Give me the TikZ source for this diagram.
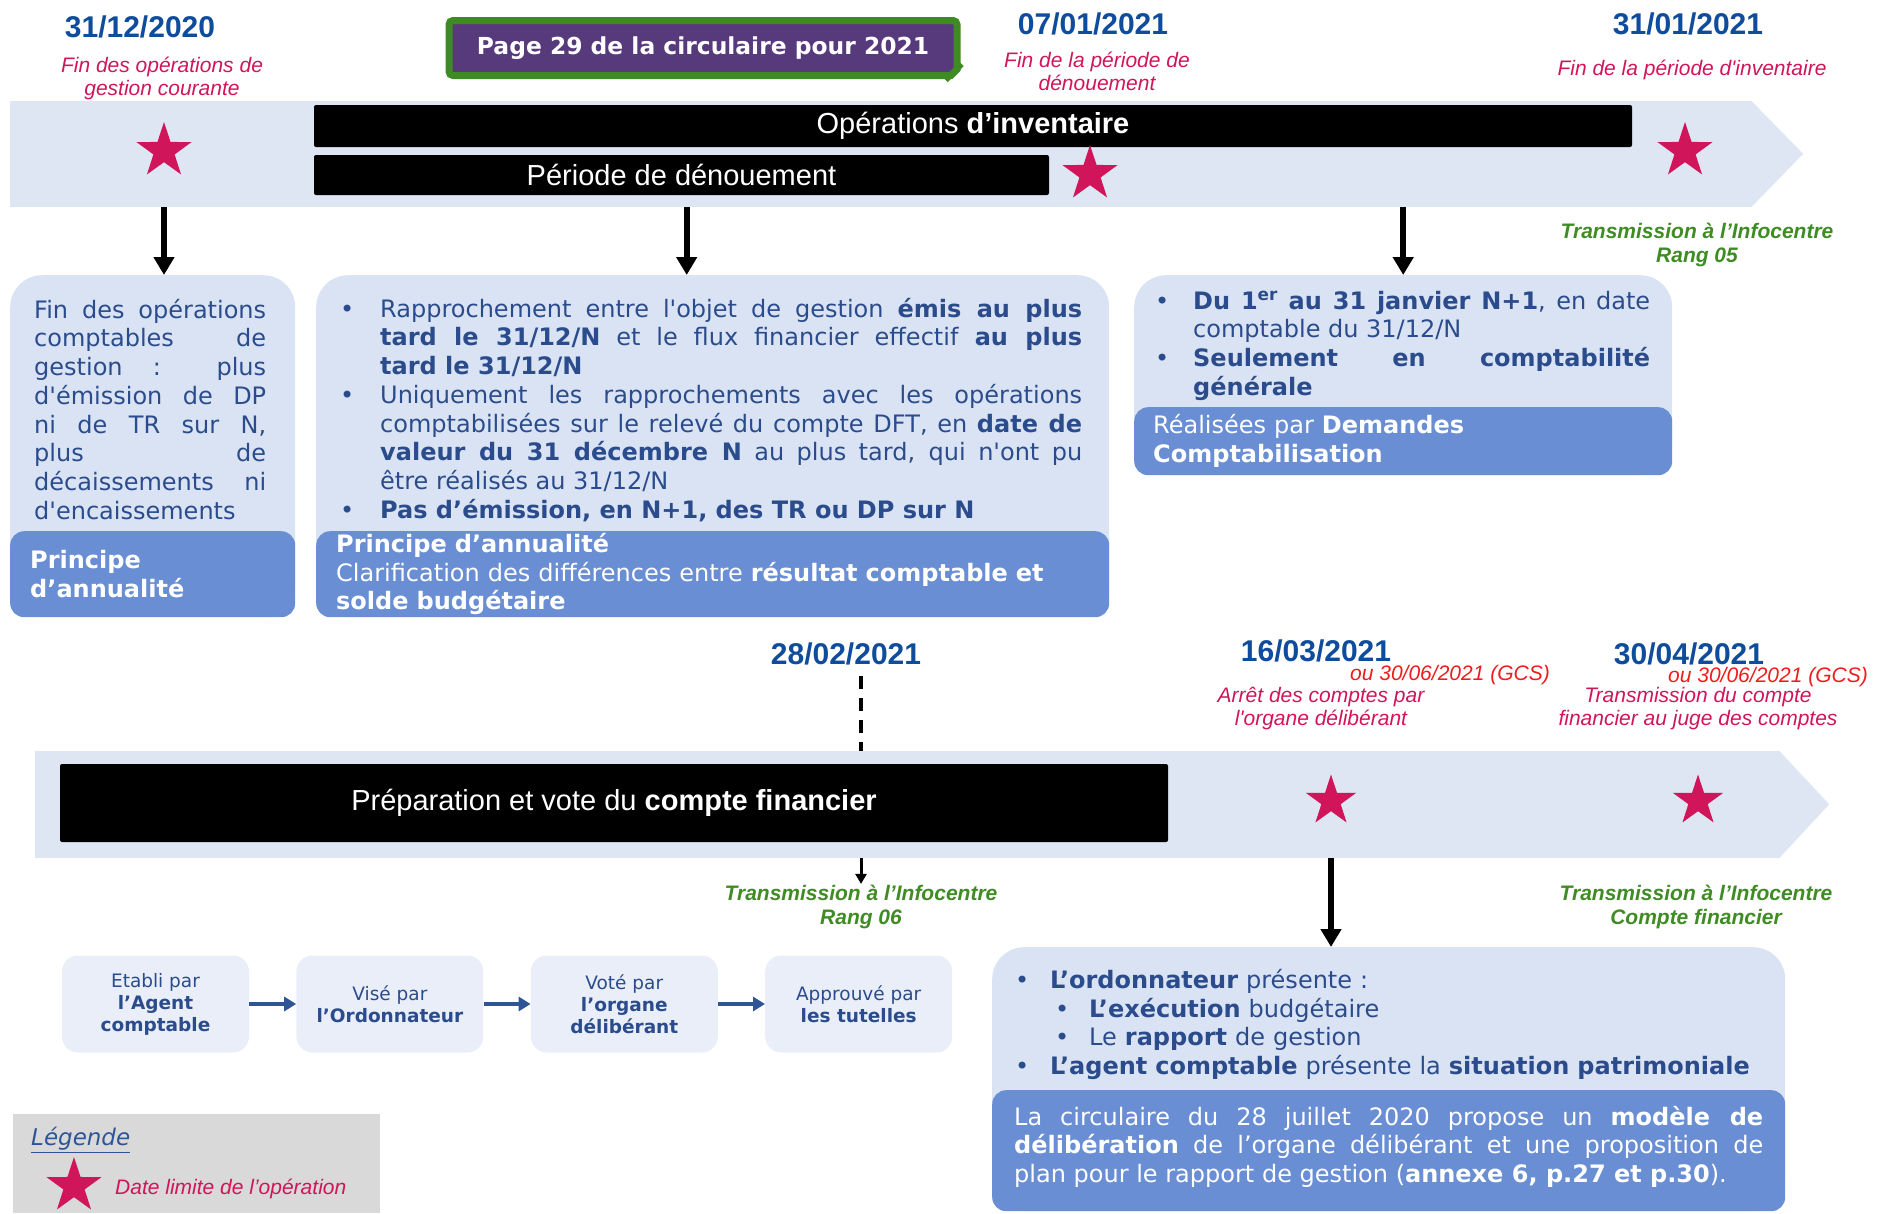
\documentclass[tikz,border=0pt]{standalone}
\usepackage{fontspec}
\setmainfont{DejaVu Sans}[Ligatures=TeXOff]
\newfontfamily\arialfont{Liberation Sans}[Ligatures=TeXOff]
\usetikzlibrary{shapes.geometric, arrows.meta, positioning}

\definecolor{bandblue}{HTML}{DEE6F4}
\definecolor{boxlight}{HTML}{DAE3F3}
\definecolor{boxdark}{HTML}{698ED4}
\definecolor{procfill}{HTML}{E9EEF8}
\definecolor{textblue}{HTML}{2B4C8C}
\definecolor{dateblue}{HTML}{0F4C9C}
\definecolor{crimson}{HTML}{D0155A}
\definecolor{gcsred}{HTML}{EE1C1C}
\definecolor{infogreen}{HTML}{3F8C24}
\definecolor{flowblue}{HTML}{2F5597}
\definecolor{pagepurple}{HTML}{573A7C}
\definecolor{pagegreen}{HTML}{3E8A23}
\definecolor{legendgray}{HTML}{D9D9D9}

\tolerance=10000
\hbadness=10000

\tikzstyle{band} = [rectangle, fill=bandblue, inner sep=0]
\tikzstyle{infobox} = [rectangle, rounded corners=32, fill=boxlight, inner sep=0, anchor=north west]
\tikzstyle{notebox} = [rectangle, rounded corners=14, fill=boxdark, text=white, inner ysep=2, anchor=north west, align=left, font=\fontsize{24}{28.7}\selectfont]
\tikzstyle{boxtext} = [font=\fontsize{24}{28.7}\selectfont, text=textblue, align=justify, inner sep=0, anchor=north west]

% bullet with hanging indent: #1 bullet offset, #2 text indent
\newcommand{\pucedeb}[2]{\noindent\hangindent=#2pt\hangafter=1\hbox to #2pt{\hskip #1pt\textbullet\hfil}\strut}
\newcommand{\puce}[2]{\par\pucedeb{#1}{#2}}

\begin{document}
\begin{tikzpicture}[x=1pt, y=-1pt, >={Triangle[length=18pt, width=20pt]}]
    \tikzstyle{datelabel} = [font=\arialfont\bfseries\fontsize{30}{34}\selectfont, text=dateblue, inner sep=1]
    \tikzstyle{redcap} = [font=\arialfont\itshape\fontsize{21}{23}\selectfont, text=crimson, align=center, inner sep=1]
    \tikzstyle{gcs} = [redcap, text=gcsred]
    \tikzstyle{infocentre} = [font=\arialfont\bfseries\itshape\fontsize{21}{24}\selectfont, text=infogreen, align=center, inner sep=1]
    \tikzstyle{blackbar} = [rectangle, fill=black, text=white, rounded corners=2, inner sep=0, font=\arialfont\fontsize{29}{33}\selectfont]
    \tikzstyle{datestar} = [star, star points=5, star point ratio=2.6, fill=crimson, minimum size=58, inner sep=0]
    \tikzstyle{bigarrow} = [->, line width=6, draw=black]
    \tikzstyle{procbox} = [rectangle, rounded corners=16, fill=procfill, text=textblue, align=center, minimum width=187, minimum height=97, inner sep=0, font=\fontsize{18.5}{22}\selectfont]
    \tikzstyle{flow} = [->, >={Triangle[length=12pt, width=14pt]}, line width=3.5, draw=flowblue]

    \useasboundingbox (0,0) rectangle (1878,1213);

    % ---- top timeline
    \node[rectangle, fill=pagepurple, draw=pagegreen, line width=7, rounded corners=4, text=white, font=\bfseries\fontsize{23.4}{28}\selectfont, minimum width=508, minimum height=55, inner sep=0] (page) at (703,48) {Page 29 de la circulaire pour 2021};
    \fill[white] ([xshift=-12pt,yshift=-4pt]page.south east) -- ([xshift=4pt,yshift=-4pt]page.south east) -- ([xshift=4pt,yshift=12pt]page.south east) -- cycle;
    \draw[pagegreen, line width=6] ([xshift=-15pt,yshift=-1pt]page.south east) -- ([xshift=1pt,yshift=15pt]page.south east);

    \node[band, minimum width=1741, minimum height=106] (topband) at (880.5,154) {};
    \fill[bandblue] (topband.north east) -- ++(52,53) -- (topband.south east) -- cycle;

    \node[blackbar, minimum width=1318, minimum height=42] (inventaire) at (973,126) {Opérations \textbf{d’inventaire}};
    \node[blackbar, minimum width=735, minimum height=40] (denouement) at (681.5,175) {Période de dénouement};

    \node[datestar] (s1) at (164,151) {};
    \node[datestar] (s2) at (1090,174) {};
    \node[datestar] (s3) at (1685,151) {};

    \node[datelabel] (d1) at (140,27) {31/12/2020};
    \node[datelabel] (d2) at (1093,24) {07/01/2021};
    \node[datelabel] (d3) at (1688,24) {31/01/2021};

    \node[redcap] (c1) at (162,78) {Fin des opérations de\\gestion courante};
    \node[redcap] (c2) at (1097,71) {Fin de la période de\\dénouement};
    \node[redcap] (c3) at (1692,70) {Fin de la période d'inventaire};
    \node[infocentre] (rang05) at (1697,245) {Transmission à l’Infocentre\\Rang 05};

    % ---- boxes under the top timeline
    \node[infobox, minimum width=285, minimum height=342] (finops) at (10,275) {};
    \node[boxtext, text width=232] (finopsText) at (34,298) {\strut Fin des opérations\linebreak
        comptables de\linebreak
        gestion : plus\linebreak
        d'émission de DP\linebreak
        ni de TR sur N,\linebreak
        plus de\linebreak
        décaissements ni\linebreak
        d'encaissements};
    \node[notebox, minimum width=285, minimum height=86, inner xsep=20, text width=245] (finopsNote) at (10,531) {\textbf{Principe}\\\textbf{d’annualité}};

    \node[infobox, minimum width=793, minimum height=342] (rappro) at (316,275) {};
    \node[boxtext, text width=742] (rapproText) at (340,297) {%
        \pucedeb{0}{40}Rapprochement entre l'objet de gestion \textbf{émis au plus}\linebreak
        \textbf{tard le 31/12/N} et le flux financier effectif \textbf{au plus}\linebreak
        \textbf{tard le 31/12/N}
        \puce{0}{40}Uniquement les rapprochements avec les opérations\linebreak
        comptabilisées sur le relevé du compte DFT, en \textbf{date de}\linebreak
        \textbf{valeur du 31 décembre N} au plus tard, qui n'ont pu\linebreak
        être réalisés au 31/12/N
        \puce{0}{40}\textbf{Pas d’émission, en N+1, des TR ou DP sur N}\par};
    \node[notebox, minimum width=793, minimum height=86, inner xsep=20, text width=753] (rapproNote) at (316,531) {\textbf{Principe d’annualité}\\Clarification des différences entre \textbf{résultat comptable et}\\\textbf{solde budgétaire}};

    \node[infobox, minimum width=538, minimum height=200] (janvier) at (1134,275) {};
    \node[boxtext, text width=495] (janvierText) at (1155,289) {%
        \pucedeb{0}{38}\textbf{Du 1\textsuperscript{er} au 31 janvier N+1}, en date\linebreak
        comptable du 31/12/N
        \puce{0}{38}\textbf{Seulement en comptabilité}\linebreak
        \textbf{générale}\par};
    \node[notebox, minimum width=538, minimum height=68, inner xsep=19, text width=500] (janvierNote) at (1134,407) {Réalisées par \textbf{Demandes}\\\textbf{Comptabilisation}};

    \coordinate (rapproTop) at ([xshift=-26pt]rappro.north);
    \draw[bigarrow] (s1 |- topband.south) -- (s1 |- finops.north);
    \draw[bigarrow] (rapproTop |- topband.south) -- (rapproTop);
    \draw[bigarrow] (janvier.north |- topband.south) -- (janvier.north);

    % ---- lower timeline
    \node[band, minimum width=1744, minimum height=107] (lowband) at (907,804.5) {};
    \fill[bandblue] (lowband.north east) -- ++(50,53.5) -- (lowband.south east) -- cycle;

    \node[blackbar, minimum width=1108, minimum height=78] (prepa) at (614,803) {Préparation et vote du \textbf{compte financier}};

    \node[datestar, minimum size=53] (s5) at (1331,801) {};
    \node[datestar, minimum size=53] (s6) at (1698,801) {};

    \node[datelabel] (d4) at (846,654) {28/02/2021};
    \node[datelabel] (d5) at (1316,651) {16/03/2021};
    \node[datelabel] (d6) at (1689,654) {30/04/2021};
    \node[gcs] (g5) at (1450,675) {ou 30/06/2021 (GCS)};
    \node[gcs] (g6) at (1768,677) {ou 30/06/2021 (GCS)};
    \node[redcap] (c5) at (1321,709) {Arrêt des comptes par\\l'organe délibérant};
    \node[redcap] (c6) at (1698,709) {Transmission du compte\\financier au juge des comptes};

    \node[infocentre] (rang06) at (861,907) {Transmission à l’Infocentre\\Rang 06};
    \node[infocentre] (cfin) at (1696,907) {Transmission à l’Infocentre\\Compte financier};

    \draw[line width=3.5, dash pattern=on 13pt off 9pt, shorten <=10pt] (rang06 |- d4.south) -- (rang06 |- lowband.north);
    \draw[->, line width=3, >={Triangle[length=10pt, width=11pt]}] (rang06 |- lowband.south) -- (rang06.north);

    % ---- circuit of the compte financier
    \node[procbox] (etabli) at (155.5,1004) {Etabli par\\\textbf{l’Agent}\\\textbf{comptable}};
    \node[procbox, right=47pt of etabli] (vise) {Visé par\\\textbf{l’Ordonnateur}};
    \node[procbox, right=47pt of vise] (vote) {Voté par\\\textbf{l’organe}\\\textbf{délibérant}};
    \node[procbox, right=47pt of vote] (approuve) {Approuvé par\\\textbf{les tutelles}};
    \draw[flow] (etabli) -- (vise);
    \draw[flow] (vise) -- (vote);
    \draw[flow] (vote) -- (approuve);

    \node[infobox, minimum width=793, minimum height=264] (presente) at (992,947) {};
    \node[boxtext, align=left, text width=760] (presenteText) at (1015,968) {%
        \pucedeb{0}{35}\textbf{L’ordonnateur} présente :
        \puce{40}{74}\textbf{L’exécution} budgétaire
        \puce{40}{74}Le \textbf{rapport} de gestion
        \puce{0}{35}\textbf{L’agent comptable} présente la \textbf{situation patrimoniale}\par};
    \node[notebox, align=justify, minimum width=793, minimum height=121, inner xsep=22, text width=749] (presenteNote) at (992,1090) {La circulaire du 28 juillet 2020 propose un \textbf{modèle de}\linebreak
        \textbf{délibération} de l’organe délibérant et une proposition de\linebreak
        plan pour le rapport de gestion (\textbf{annexe 6, p.27 et p.30}).\par\vspace{8pt}};

    \draw[bigarrow] (s5 |- lowband.south) -- (s5 |- presente.north);

    % ---- legend
    \node[rectangle, fill=legendgray, minimum width=367, minimum height=99, inner sep=0, anchor=north west] (legend) at (13,1114) {};
    \node[font=\itshape\fontsize{23}{26}\selectfont, text=flowblue, inner sep=1, anchor=west] (legendTitle) at (30,1140) {\underline{Légende}};
    \node[datestar] (legendStar) at (74,1186) {};
    \node[redcap, anchor=west] (legendText) at (114,1189) {Date limite de l’opération};
\end{tikzpicture}
\end{document}
